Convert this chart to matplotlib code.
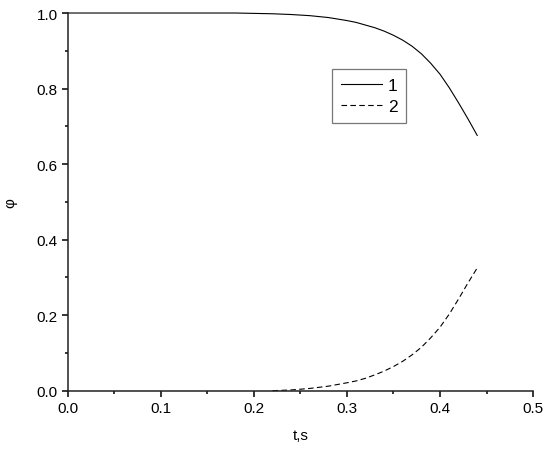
import matplotlib
matplotlib.use('Agg')
import matplotlib.pyplot as plt
from matplotlib.ticker import MultipleLocator

plt.rcParams['font.family'] = ['Liberation Sans', 'DejaVu Sans']

# curve 1
t1 = [0.0, 0.02, 0.04, 0.06, 0.08, 0.10, 0.12, 0.14, 0.16, 0.18, 0.20, 0.22,
      0.24, 0.26, 0.28, 0.30, 0.31, 0.32, 0.33, 0.34, 0.35, 0.36, 0.37, 0.38,
      0.39, 0.40, 0.41, 0.42, 0.43, 0.44]
phi1 = [1.0, 1.0, 1.0, 1.0, 1.0, 1.0, 1.0, 1.0, 1.0, 1.0, 0.999, 0.998,
        0.996, 0.993, 0.988, 0.980, 0.975, 0.968, 0.961, 0.952, 0.941, 0.928, 0.912, 0.892,
        0.867, 0.838, 0.802, 0.762, 0.720, 0.676]
# curve 2
t2 = [0.22, 0.24, 0.26, 0.28, 0.30, 0.31, 0.32, 0.33, 0.34, 0.35, 0.36, 0.37,
      0.38, 0.39, 0.40, 0.41, 0.42, 0.43, 0.44]
phi2 = [0.0, 0.002, 0.006, 0.012, 0.021, 0.026, 0.033, 0.042, 0.052, 0.064, 0.078, 0.095,
        0.115, 0.140, 0.168, 0.203, 0.243, 0.285, 0.325]

fig = plt.figure(figsize=(5.5, 4.52), dpi=100)
ax = fig.add_axes([0.1236, 0.1334, 0.8455, 0.8356])

ax.plot(t1, phi1, color='black', lw=0.8, label='1', clip_on=False)
ax.plot(t2, phi2, color='black', lw=0.8, linestyle=(0, (5, 3)), label='2', clip_on=False)

ax.set_xlim(0, 0.5)
ax.set_ylim(0, 1.0)
ax.xaxis.set_major_locator(MultipleLocator(0.1))
ax.xaxis.set_minor_locator(MultipleLocator(0.05))
ax.yaxis.set_major_locator(MultipleLocator(0.2))
ax.yaxis.set_minor_locator(MultipleLocator(0.1))
ax.xaxis.set_major_formatter(plt.FormatStrFormatter('%.1f'))
ax.yaxis.set_major_formatter(plt.FormatStrFormatter('%.1f'))

for s in ['top', 'right']:
    ax.spines[s].set_visible(False)
for s in ['left', 'bottom']:
    ax.spines[s].set_linewidth(1.1)
    ax.spines[s].set_color('#222222')

ax.tick_params(which='major', direction='out', length=4.5, width=1.1, labelsize=11, pad=3)
ax.tick_params(which='minor', direction='out', length=2.5, width=1.1)

ax.set_xlabel('t,s', fontsize=11, labelpad=9)
ax.set_ylabel('φ', fontsize=11, labelpad=14)

leg = ax.legend(loc='upper left', bbox_to_anchor=(0.568, 0.852), borderaxespad=0,
                fancybox=False, frameon=True, fontsize=12.5, handlelength=2.4,
                handletextpad=0.3, borderpad=0.5, labelspacing=0.35)
leg.get_frame().set_edgecolor('#555555')
leg.get_frame().set_linewidth(0.9)

fig.savefig('out.png', dpi=100)
